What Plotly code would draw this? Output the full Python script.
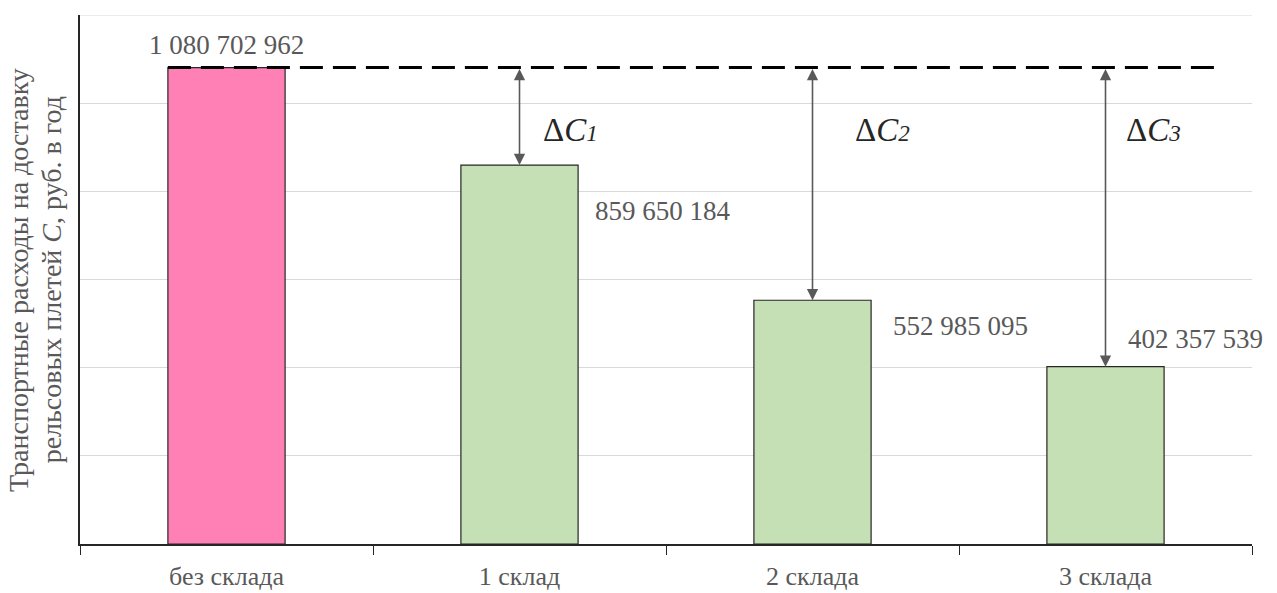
import plotly.graph_objects as go

# Annual rail-string delivery costs by number of warehouses
categories = ["без склада", "1 склад", "2 склада", "3 склада"]
costs = [1080702962, 859650184, 552985095, 402357539]
value_labels = ["1 080 702 962", "859 650 184", "552 985 095", "402 357 539"]
delta_labels = ["1", "2", "3"]
y_title_lines = ["Транспортные расходы на доставку", "рельсовых плетей <i>C</i>, руб. в год"]

bar_colors = ["#ff80b4", "#c5e0b4", "#c5e0b4", "#c5e0b4"]
FONT = "Liberation Serif"
TEXT_GREY = "#595959"
Y_MAX = 1.2e9

fig = go.Figure()
fig.add_trace(go.Bar(
    x=categories, y=costs, width=0.4,
    marker=dict(color=bar_colors, line=dict(color="#262626", width=1.2)),
    hoverinfo="skip", showlegend=False,
))

base = costs[0]

# top gridline at the end of the value range
fig.add_shape(type="line", xref="paper", yref="y", x0=0, x1=1, y0=Y_MAX, y1=Y_MAX,
              line=dict(color="#d9d9d9", width=1), layer="below")

# baseline reference line at the cost without a warehouse
fig.add_shape(type="line", xref="x", yref="y", x0=-0.2, x1=3.37, y0=base, y1=base,
              line=dict(color="black", width=3, dash="23px,10px"), layer="above")

# value labels: (x shift px, y shift px, y anchor)
label_pos = [(0, 6, "bottom"), (143, -46, "middle"), (148, -26, "middle"), (90, 28, "middle")]
for i, (txt, (dx, dy, ya)) in enumerate(zip(value_labels, label_pos)):
    fig.add_annotation(x=i, y=costs[i], text=txt, showarrow=False, xref="x", yref="y",
                       xshift=dx, yshift=dy, yanchor=ya,
                       font=dict(family=FONT, size=27, color=TEXT_GREY))

# double-headed arrows showing savings against the baseline
delta_shift = [51, 70, 48]
for k in range(1, 4):
    fig.add_annotation(x=k, y=costs[k], ax=k, ay=base, xref="x", yref="y",
                       axref="x", ayref="y", text="", showarrow=True,
                       arrowside="end+start", arrowhead=2, startarrowhead=2,
                       arrowsize=1.4, startarrowsize=1.4, arrowwidth=1.6,
                       arrowcolor="#595959", standoff=0, startstandoff=0)
    fig.add_annotation(x=k, y=9.4e8, xref="x", yref="y", showarrow=False,
                       xshift=delta_shift[k - 1],
                       text="Δ<i>C</i><i><span style='font-size:23px'>" + delta_labels[k - 1] + "</span></i>",
                       font=dict(family=FONT, size=33, color="#262626"))

# two-line vertical axis title
for line, xp in zip(y_title_lines, [-0.0525, -0.0240]):
    fig.add_annotation(x=xp, y=0.5, xref="paper", yref="paper", text=line,
                       textangle=-90, showarrow=False, xanchor="center", yanchor="middle",
                       font=dict(family=FONT, size=28, color=TEXT_GREY))

fig.update_layout(
    width=1277, height=593,
    margin=dict(l=80, r=25, t=15, b=49, autoexpand=False),
    paper_bgcolor="white", plot_bgcolor="white",
    bargap=0.6,
    font=dict(family=FONT, color=TEXT_GREY),
)
fig.update_xaxes(
    type="category", tickson="boundaries", ticks="outside", ticklen=9,
    tickcolor="#262626", tickwidth=1.2, showline=True, linecolor="#262626", linewidth=1.5,
    tickfont=dict(family=FONT, size=26, color=TEXT_GREY), showgrid=False,
    ticklabelstandoff=8, range=[-0.5, 3.5], automargin=False,
)
fig.update_yaxes(
    range=[0, Y_MAX], dtick=2e8, showticklabels=False, ticks="",
    showgrid=True, gridcolor="#d9d9d9", gridwidth=1,
    showline=True, linecolor="#262626", linewidth=1.5, zeroline=False,
    automargin=False,
)

fig.write_html("out.html")
